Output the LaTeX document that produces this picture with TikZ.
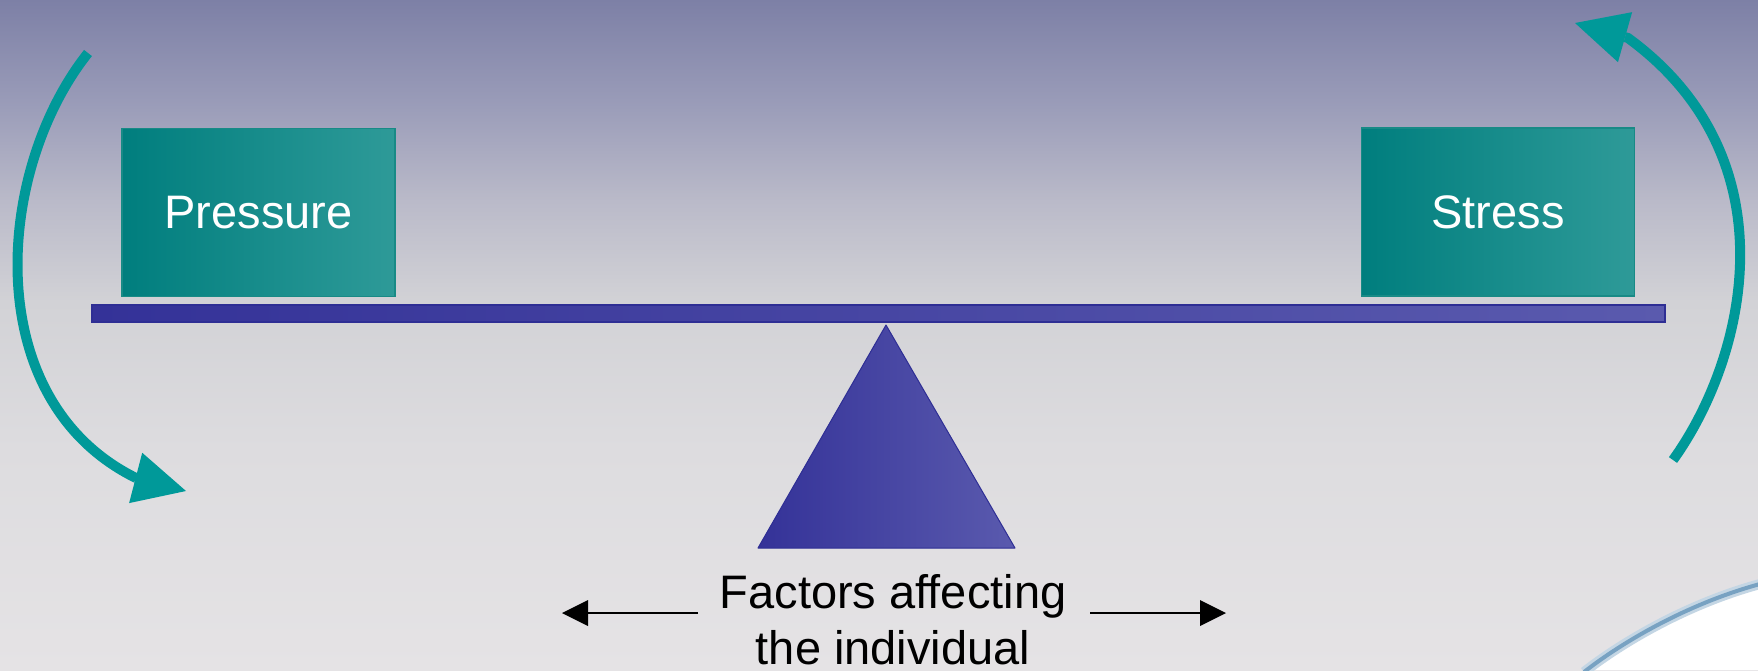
\documentclass[tikz,border=0pt]{standalone}
\usepackage{fontspec}
\setmainfont{Liberation Sans}
\usetikzlibrary{arrows.meta}
\definecolor{bgA}{RGB}{229,227,229}
\definecolor{bgB}{RGB}{221,220,223}
\definecolor{bgC}{RGB}{210,210,214}
\definecolor{bgD}{RGB}{186,186,201}
\definecolor{bgE}{RGB}{153,155,184}
\definecolor{bgF}{RGB}{125,128,166}
\definecolor{boxL}{RGB}{0,126,126}
\definecolor{boxR}{RGB}{46,154,152}
\definecolor{boxB}{RGB}{24,138,134}
\definecolor{beamL}{RGB}{52,50,152}
\definecolor{beamR}{RGB}{90,90,174}
\definecolor{beamB}{RGB}{46,46,148}
\definecolor{arcTeal}{RGB}{0,153,153}
\definecolor{swHalo}{RGB}{196,214,228}
\definecolor{swLine}{RGB}{120,162,194}
\pgfdeclareverticalshading{bgshade}{100bp}{color(0bp)=(bgA); color(25bp)=(bgA); color(41.5bp)=(bgB); color(52.5bp)=(bgC); color(60bp)=(bgD); color(67.5bp)=(bgE); color(75bp)=(bgF); color(100bp)=(bgF)}
\begin{document}
\begin{tikzpicture}[x=1pt,y=-1pt,
  box/.style={minimum width=273pt, minimum height=168pt, inner sep=0pt,
    left color=boxL, right color=boxR, draw=boxB, line width=1.5pt,
    text=white, font=\fontsize{47}{56}\selectfont},
  beambar/.style={minimum width=1573pt, minimum height=17pt, inner sep=0pt,
    left color=beamL, right color=beamR, draw=beamB, line width=1.2pt},
  lbl/.style={inner sep=0pt, text=black, font=\fontsize{47}{56}\selectfont},
  tealarc/.style={draw=arcTeal, line width=10pt, line join=round,
    -{Triangle[length=52pt,width=52pt,line width=0pt]}},
  blkarrow/.style={draw=black, line width=2pt,
    -{Triangle[length=26pt,width=26pt,line width=0pt]}}]
\useasboundingbox (0,0) rectangle (1758,670);
\shade[shading=bgshade] (0,0) rectangle (1758,670);
% swoosh bottom right
\fill[white] (1585,670) .. controls (1625,640) and (1690,603) .. (1758,585) -- (1758,670) -- cycle;
\draw[swHalo, line width=10pt] (1584,672) .. controls (1625,640) and (1690,603) .. (1760,584);
\draw[swLine, line width=4pt] (1584,672) .. controls (1625,640) and (1690,603) .. (1760,584);
% beam and fulcrum
\node[beambar] (beam) at (878.5,313.5) {};
\coordinate (apex) at (886,325);
\coordinate (baseR) at (1015,548);
\coordinate (baseL) at (758,548);
\shade[left color=beamL, right color=beamR, draw=beamB, line width=1pt, line join=round] (apex) -- (baseR) -- (baseL) -- cycle;
% weights
\node[box] (pressure) at (258.5,212.5) {Pressure};
\node[box] (stress) at (1498,212) {Stress};
% rotation arcs
\draw[tealarc] (88,53) .. controls (-5,170) and (-22,400) .. (136,478) -- (186,491);
\draw[tealarc] (1673,460) .. controls (1745,360) and (1795,160) .. (1628,38) -- (1575,23);
% label
\node[lbl, anchor=base] (t1) at (893,608) {Factors affecting};
\node[lbl, anchor=base] (t2) at (893,664) {the individual};
\coordinate (la0) at (698,613);
\coordinate (la1) at (562,613);
\coordinate (ra0) at (1090,613);
\coordinate (ra1) at (1226,613);
\draw[blkarrow] (la0) -- (la1);
\draw[blkarrow] (ra0) -- (ra1);
\end{tikzpicture}
\end{document}
